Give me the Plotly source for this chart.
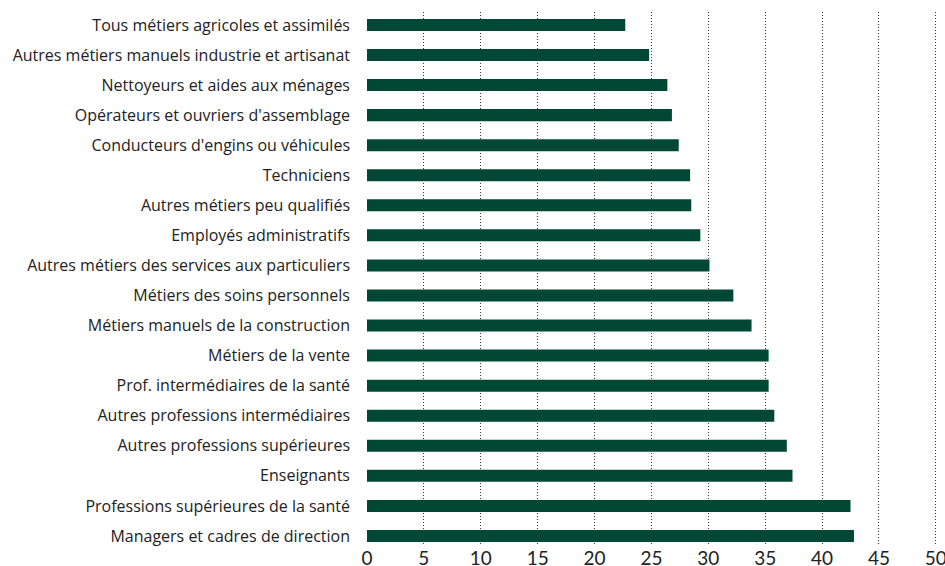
"""
Horizontal bar chart by occupation group using Plotly
"""

import plotly.graph_objects as go

# Occupation groups, top to bottom
categories = [
    "Tous métiers agricoles et assimilés",
    "Autres métiers manuels industrie et artisanat",
    "Nettoyeurs et aides aux ménages",
    "Opérateurs et ouvriers d'assemblage",
    "Conducteurs d'engins ou véhicules",
    "Techniciens",
    "Autres métiers peu qualifiés",
    "Employés administratifs",
    "Autres métiers des services aux particuliers",
    "Métiers des soins personnels",
    "Métiers manuels de la construction",
    "Métiers de la vente",
    "Prof. intermédiaires de la santé",
    "Autres professions intermédiaires",
    "Autres professions supérieures",
    "Enseignants",
    "Professions supérieures de la santé",
    "Managers et cadres de direction",
]

values = [22.7, 24.8, 26.4, 26.8, 27.4, 28.4, 28.5, 29.3, 30.1,
          32.2, 33.8, 35.3, 35.3, 35.8, 36.9, 37.4, 42.5, 42.8]

x_ticks = [0, 5, 10, 15, 20, 25, 30, 35, 40, 45, 50]

BAR_COLOR = '#004833'
TEXT_COLOR = '#222222'

fig = go.Figure()

fig.add_trace(
    go.Bar(
        x=values,
        y=categories,
        orientation='h',
        marker=dict(color=BAR_COLOR, line=dict(width=0)),
        width=0.4,
        showlegend=False
    )
)

fig.update_xaxes(
    range=[0, 50.1],
    tickvals=x_ticks,
    showgrid=True,
    gridcolor='#333333',
    griddash='1px,2px',
    gridwidth=1,
    zeroline=False,
    showline=False,
    ticks='',
    automargin=False,
    ticklabeloverflow='allow',
    tickfont=dict(family='Lato', size=19, color=TEXT_COLOR)
)

fig.update_yaxes(
    categoryorder='array',
    categoryarray=categories,
    range=[len(categories) - 1 + 0.3, -0.43],
    showgrid=False,
    zeroline=False,
    ticks='',
    automargin=False,
    ticklabelstandoff=16,
    tickfont=dict(family='Open Sans', size=16, color=TEXT_COLOR)
)

fig.update_layout(
    width=945,
    height=566,
    template='plotly_white',
    plot_bgcolor='white',
    paper_bgcolor='white',
    margin=dict(l=367, r=8, t=12, b=21),
    bargap=0.6
)

# drop the default page margin so the figure fills the window exactly
fig.write_html(
    "out.html",
    config={'displayModeBar': False},
    post_script="document.body.style.margin='0';document.body.style.overflow='hidden';"
)
